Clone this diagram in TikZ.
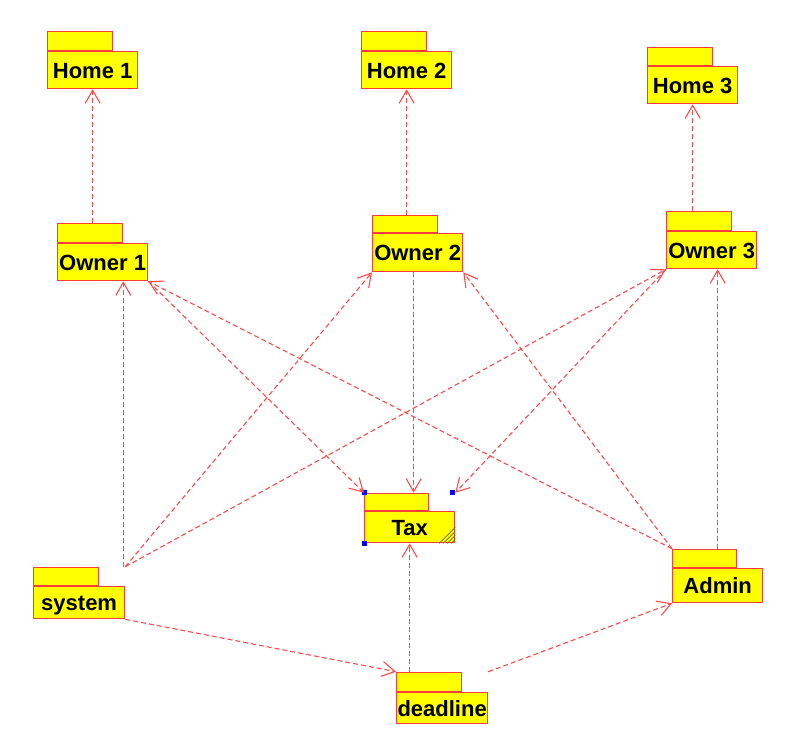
\documentclass[tikz,border=0pt]{standalone}
\usepackage{fontspec}
\setmainfont{Liberation Sans}
\usetikzlibrary{arrows.meta,calc}
\definecolor{pkgred}{HTML}{FF3C3C}
\definecolor{depred}{HTML}{FF4A4A}
\definecolor{pkgyellow}{HTML}{FFFF00}
\definecolor{hatch}{HTML}{6B6B00}
\tikzset{
  pkgbody/.style={draw=pkgred, fill=pkgyellow, line width=1.3pt, inner sep=0pt,
    anchor=north west, minimum width=90pt, text height=16pt, text depth=0pt,
    font=\fontsize{22}{24}\selectfont\bfseries},
  pkgtab/.style={draw=pkgred, fill=pkgyellow, line width=1.3pt, inner sep=0pt,
    anchor=south west, minimum width=65pt, minimum height=19pt},
  dep/.style={draw=depred, line width=1.1pt, dash pattern=on 5pt off 3pt,
    -{Straight Barb[length=13pt,width=15pt,line width=1.1pt]}},
  handle/.style={fill=blue}
}
\begin{document}
\begin{tikzpicture}[x=1pt,y=-1pt]
\useasboundingbox (0,0) rectangle (809,742);
% packages
\node[pkgbody, minimum height=37pt] (h1) at (47,51) {Home 1};
\node[pkgtab] (h1t) at (h1.north west) {};
\node[pkgbody, minimum height=37pt] (h2) at (361,51) {Home 2};
\node[pkgtab] (h2t) at (h2.north west) {};
\node[pkgbody, minimum height=37pt] (h3) at (647,66) {Home 3};
\node[pkgtab, minimum height=18pt] (h3t) at (h3.north west) {};
\node[pkgbody, minimum height=37pt] (o1) at (57,243) {Owner 1};
\node[pkgtab] (o1t) at (o1.north west) {};
\node[pkgbody, minimum height=38pt] (o2) at (372,233) {Owner 2};
\node[pkgtab, minimum height=17pt] (o2t) at (o2.north west) {};
\node[pkgbody, minimum height=37pt] (o3) at (666,231) {Owner 3};
\node[pkgtab] (o3t) at (o3.north west) {};
\node[pkgbody, minimum height=31pt] (tax) at (364,511) {Tax};
\node[pkgtab, minimum width=64pt, minimum height=17pt] (taxt) at (tax.north west) {};
\node[pkgbody, minimum width=91pt, minimum height=32pt] (sys) at (33,586) {system};
\node[pkgtab, minimum height=18pt] (syst) at (sys.north west) {};
\node[pkgbody, minimum width=91pt, minimum height=31pt] (dl) at (396,692) {deadline};
\node[pkgtab] (dlt) at (dl.north west) {};
\node[pkgbody, minimum height=34pt] (adm) at (672,568) {Admin};
\node[pkgtab, minimum width=64pt, minimum height=18pt] (admt) at (adm.north west) {};
% Tax decorations
\foreach \d in {4,8,12,16}
  \draw[hatch, line width=0.8pt] ($(tax.south east)+(-\d,0)$) -- ($(tax.south east)+(0,-\d)$);
\fill[handle] ($(taxt.north west)+(-2.5,-2.5)$) rectangle ++(5,5);
\fill[handle] ($(taxt.north -| tax.east)+(-5,-2.5)$) rectangle ++(5,5);
\fill[handle] ($(tax.south west)+(-2.5,-2.5)$) rectangle ++(5,5);
% helper coordinates
\coordinate (sysc) at (syst.north -| sys.east);
\coordinate (dlc) at (dlt.north -| dl.east);
% dependencies
\draw[dep] (o1t.north -| h1.south) -- (h1.south);
\draw[dep] (o2t.north -| h2.south) -- (h2.south);
\draw[dep] (o3t.north -| h3.south) -- (h3.south);
\draw[dep] (o1.south east) -- (taxt.north west);
\draw[dep] ($(o2.south)+(-4,0)$) -- ($(o2.south |- taxt.north)+(-4,0)$);
\draw[dep] (o3.south west) -- (taxt.north -| tax.east);
\draw[dep] ($(sysc)+(-2,0)$) -- ($(sysc |- o1.south)+(-2,0)$);
\draw[dep] (sysc) -- (o2.south west);
\draw[dep] (sysc) -- (o3.south west);
\draw[dep] (admt.north west) -- (o1.south east);
\draw[dep] (admt.north west) -- (o2.south east);
\draw[dep] (admt.north -| adm.north) -- (adm.north |- o3.south);
\draw[dep] (sys.south east) -- (dlt.north west);
\draw[dep] (dlc) -- (adm.south west);
\draw[dep] (dlt.north -| tax.south) -- (tax.south);
\end{tikzpicture}
\end{document}
